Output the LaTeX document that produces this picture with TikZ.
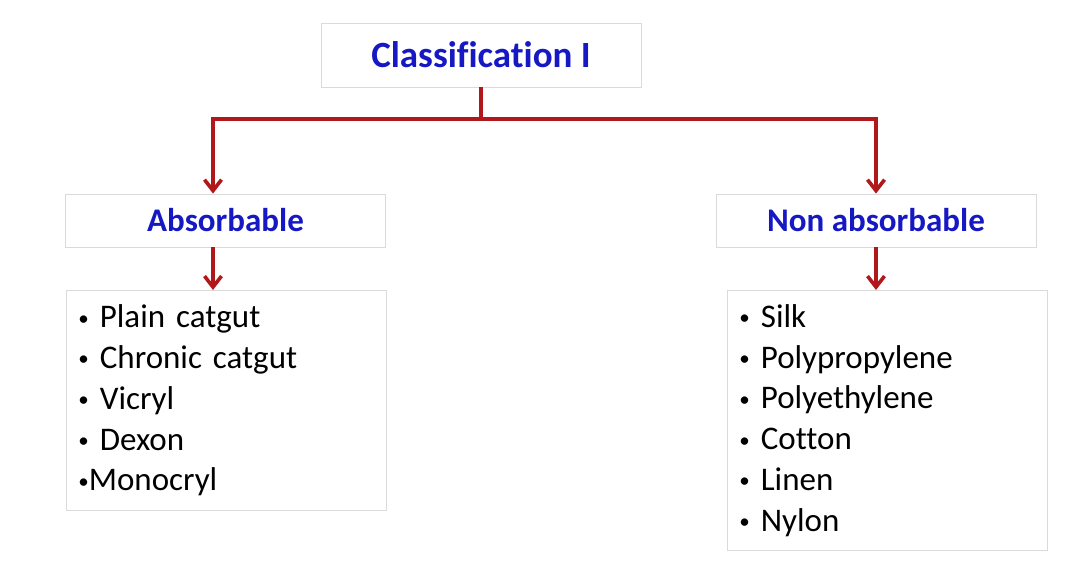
\documentclass[tikz,border=0pt]{standalone}
\usepackage{fontspec}
\setmainfont[Ligatures=NoCommon]{Carlito}
\usetikzlibrary{arrows.meta}
\definecolor{headblue}{RGB}{22,24,196}
\definecolor{linkred}{RGB}{176,24,28}
\definecolor{boxgray}{RGB}{218,218,218}
\newcommand{\blt}{{\fontsize{21}{21}\selectfont\raisebox{2.5pt}{•}}}
\begin{document}
\begin{tikzpicture}[x=1pt, y=-1pt,
    box/.style={draw=boxgray, line width=0.8pt, fill=white, inner sep=0pt},
    head/.style={box, text=headblue, font=\bfseries\fontsize{33}{36}\selectfont, minimum width=320, minimum height=53},
    listbox/.style={box, anchor=north west, align=left, text width=296, inner xsep=12, font=\fontsize{33}{40.8}\selectfont},
    conn/.style={linkred, line width=3.6pt, -{Straight Barb[length=11pt, width=17pt, line width=3.6pt]}}]
        \useasboundingbox (0,0) rectangle (1089,562);
        % boxes
        \node[head, minimum height=64, font=\bfseries\fontsize{37}{40}\selectfont] (title) at (481,55) {Classification I};
        \node[head] (absorb) at (225.5,220.5) {Absorbable};
        \node[head] (nonabs) at (876,220.5) {Non absorbable};
        \node[listbox, minimum height=220] (abslist) at (66,290)
          {\blt\ Plain catgut\\ \blt\ Chronic catgut\\ \blt\ Vicryl\\ \blt\ Dexon\\ \blt Monocryl};
        \node[listbox, minimum height=260] (nonlist) at (727,290)
          {\blt\ Silk\\ \blt\ Polypropylene\\ \blt\ Polyethylene\\ \blt\ Cotton\\ \blt\ Linen\\ \blt\ Nylon};
        % arrows
        \coordinate (split) at (481,119);
        \draw[conn] (title.south) -- (split) -| ([xshift=-12.5]absorb.north);
        \draw[conn] (split) -| (nonabs.north);
        \draw[conn] ([xshift=-12.5]absorb.south) -- ([xshift=-12.5]absorb.south |- abslist.north);
        \draw[conn] (nonabs.south) -- (nonabs.south |- nonlist.north);
\end{tikzpicture}
\end{document}
